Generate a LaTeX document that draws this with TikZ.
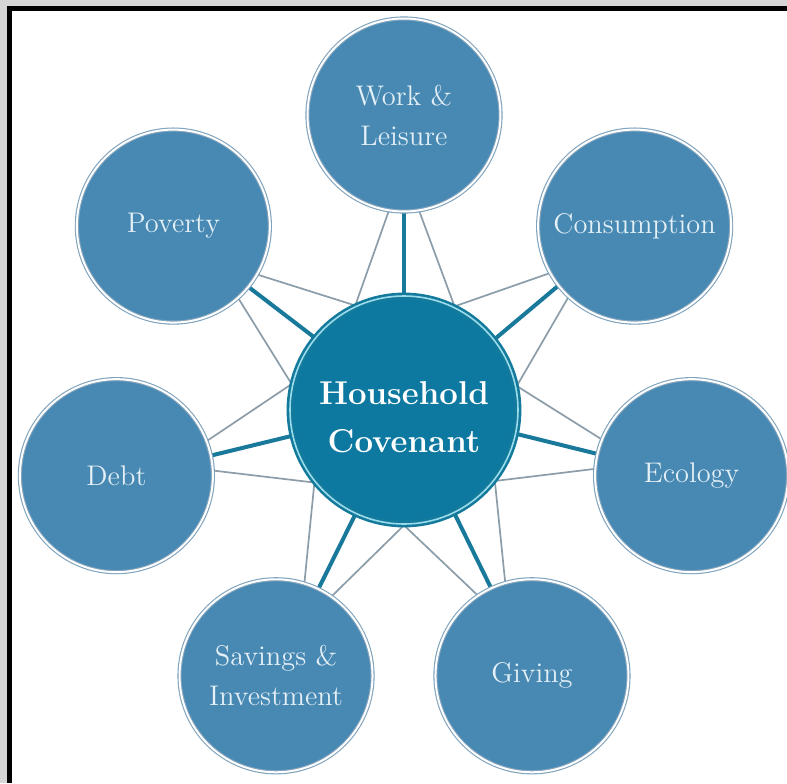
\documentclass[tikz,border=0pt]{standalone}
\usepackage{fontspec}
\usetikzlibrary{backgrounds}

\definecolor{hubfill}{HTML}{0E79A0}
\definecolor{hubedge}{HTML}{137A9C}
\definecolor{hubring}{HTML}{9ADCEC}
\definecolor{topicfill}{HTML}{4889B4}
\definecolor{topicedge}{HTML}{7FA2BC}
\definecolor{topictext}{HTML}{E4EFF6}
\definecolor{linkteal}{HTML}{18799B}
\definecolor{linkgray}{HTML}{8C9DAA}
\definecolor{framegray}{HTML}{D6D6D6}

\begin{document}
\begin{tikzpicture}[x=0.5pt,y=0.5pt,
  topic node/.style={circle,minimum size=96.5pt,inner sep=0pt,fill=topicfill,
    draw=topicedge,line width=0.55pt,double=white,double distance=1pt,
    text=topictext,align=center,font=\fontsize{14.2}{20}\selectfont},
  hub node/.style={circle,minimum size=114pt,inner sep=0pt,fill=hubfill,
    draw=hubedge,line width=1.3pt,double=hubring,double distance=0.8pt,
    text=white,align=center,text height=42.5pt,
    font=\fontsize{16.5}{24}\selectfont\bfseries},
  thick link/.style={draw=linkteal,line width=2pt},
  thin link/.style={draw=linkgray,line width=0.85pt}]
  \useasboundingbox (-404,-373) rectangle (383,410);
  \node[hub node]   (hub)  at (0,0)         {Household\\Covenant};
  \node[topic node] (work) at (90:295)      {Work \&\\Leisure};
  \node[topic node] (cons) at (38.57:295)   {Consumption};
  \node[topic node] (eco)  at (-12.86:295)  {Ecology};
  \node[topic node] (giv)  at (-64.29:295)  {Giving};
  \node[topic node] (sav)  at (-115.71:295) {Savings \&\\Investment};
  \node[topic node] (debt) at (-167.14:295) {Debt};
  \node[topic node] (pov)  at (141.43:295)  {Poverty};
  \begin{pgfonlayer}{background}
    % frame
    \fill[framegray] (-404,-373) rectangle (383,410);
    \fill[black] (-397,-373) rectangle (383,404);
    \fill[white] (-392,-373) rectangle (383,399);
    % spokes
    \path[thick link]
      (work.270)    edge (hub.90)
      (cons.218.57) edge (hub.38.57)
      (eco.167.14)  edge (hub.-12.86)
      (giv.115.71)  edge (hub.-64.29)
      (sav.64.29)   edge (hub.-115.71)
      (debt.12.86)  edge (hub.-167.14)
      (pov.321.43)  edge (hub.141.43);
    % star
    \path[thin link]
      (work.261)    edge (hub.115.71)
      (work.279)    edge (hub.64.29)
      (cons.209.57) edge (hub.64.29)
      (cons.227.57) edge (hub.12.86)
      (eco.158.14)  edge (hub.12.86)
      (eco.176.14)  edge (hub.-38.57)
      (giv.106.71)  edge (hub.-38.57)
      (giv.124.71)  edge (hub.-90)
      (sav.55.29)   edge (hub.-90)
      (sav.73.29)   edge (hub.-141.43)
      (debt.3.86)   edge (hub.-141.43)
      (debt.21.86)  edge (hub.167.14)
      (pov.312.43)  edge (hub.167.14)
      (pov.330.43)  edge (hub.115.71);
  \end{pgfonlayer}
\end{tikzpicture}
\end{document}
